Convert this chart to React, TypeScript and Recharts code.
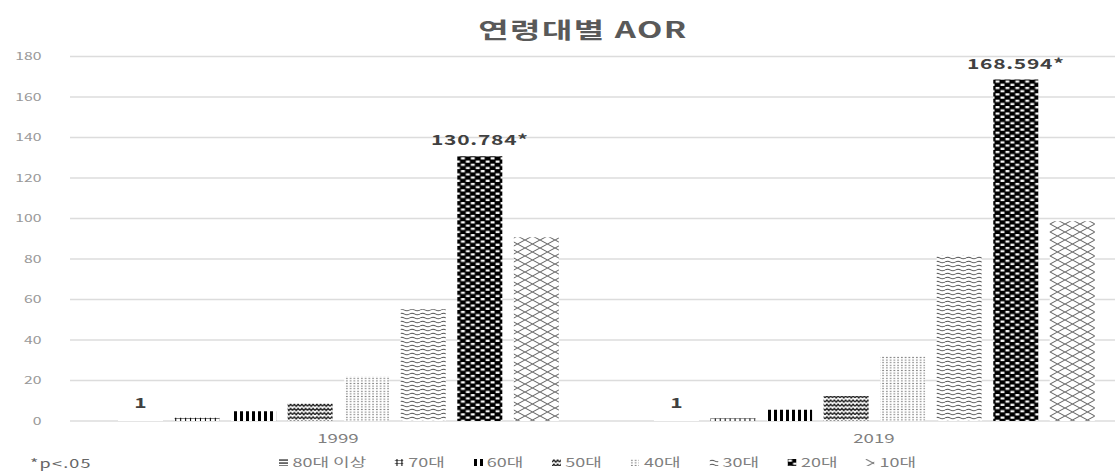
import { Bar, BarChart, CartesianGrid, LabelList, XAxis, YAxis } from "recharts";

// The source image is stretched sideways, so the whole chart is drawn narrow
// and widened with scaleX. Sizes below are in the unstretched space.
const STRETCH = 1.5;
const FONT = '"Noto Sans CJK KR", "Noto Sans", sans-serif';

const years = ["1999", "2019"];
const ageGroups = ["80대 이상", "70대", "60대", "50대", "40대", "30대", "20대", "10대"];
const aor80 = [1, 1];
const aor70 = [1.6, 1.4];
const aor60 = [4.8, 5.5];
const aor50 = [8.6, 12.3];
const aor40 = [22.0, 32.1];
const aor30 = [55.2, 81.9];
const aor20 = [130.784, 168.594];
const aor10 = [90.8, 98.6];
const labels80 = ["1", "1"];
const labels20 = ["130.784*", "168.594*"];
const yTicks = [0, 20, 40, 60, 80, 100, 120, 140, 160, 180];

const keys = ["a80", "a70", "a60", "a50", "a40", "a30", "a20", "a10"];
const seriesValues = [aor80, aor70, aor60, aor50, aor40, aor30, aor20, aor10];

const data = years.map((year, i) => {
  const row: Record<string, string | number> = { year, l80: labels80[i], l20: labels20[i] };
  keys.forEach((k, j) => (row[k] = seriesValues[j][i]));
  return row;
});

function Patterns() {
  return (
    <defs>
      {/* the 80+ bar is only 2px tall and shows as blank in the source */}
      <pattern id="p80bar" width="4" height="4" patternUnits="userSpaceOnUse">
        <rect width="4" height="4" fill="#fff" />
      </pattern>
      <pattern id="p80" width="4" height="3" patternUnits="userSpaceOnUse">
        <rect width="4" height="3" fill="#fff" />
        <rect y="0.5" width="4" height="1.1" fill="#000" />
      </pattern>
      <pattern id="p70" width="3.3" height="3" patternUnits="userSpaceOnUse">
        <rect width="3.3" height="3" fill="#fff" />
        <path d="M0 1.5 H3.3 M1.65 0 V3" stroke="#000" strokeWidth="0.7" />
      </pattern>
      <pattern id="p60" width="4" height="4" patternUnits="userSpaceOnUse">
        <rect width="4" height="4" fill="#fff" />
        <rect width="2" height="4" fill="#000" />
      </pattern>
      <pattern id="p50" width="5" height="4.2" patternUnits="userSpaceOnUse">
        <rect width="5" height="4.2" fill="#fff" />
        <path d="M0 3.2 L1.25 1 L2.5 3.2 L3.75 1 L5 3.2" stroke="#111" strokeWidth="1" fill="none" />
      </pattern>
      <pattern id="p40" width="2.5" height="2.6" patternUnits="userSpaceOnUse">
        <rect width="2.5" height="2.6" fill="#fff" />
        <circle cx="1.25" cy="1.3" r="0.6" fill="#777" />
      </pattern>
      <pattern id="p30" width="7" height="4" patternUnits="userSpaceOnUse">
        <rect width="7" height="4" fill="#fff" />
        <path d="M0 2 Q1.75 0.4 3.5 2 T7 2" stroke="#555" strokeWidth="0.9" fill="none" />
      </pattern>
      <pattern id="p20" width="6.6" height="6.4" patternUnits="userSpaceOnUse">
        <rect width="6.6" height="6.4" fill="#000" />
        <rect x="0.4" y="0.5" width="2.6" height="2.2" fill="#fff" />
        <rect x="3.7" y="3.7" width="2.6" height="2.2" fill="#fff" />
      </pattern>
      <pattern id="p10" width="10" height="8" patternUnits="userSpaceOnUse">
        <rect width="10" height="8" fill="#fff" />
        <path d="M0 0 L10 8 M10 0 L0 8" stroke="#666" strokeWidth="0.9" />
      </pattern>
    </defs>
  );
}

export default function App() {
  return (
    <div
      style={{
        position: "absolute",
        left: 0,
        top: 0,
        width: 1115,
        height: 472,
        overflow: "hidden",
        background: "#fff",
      }}
    >
      <div
        style={{
          position: "relative",
          width: 780,
          height: 472,
          transform: `scaleX(${STRETCH})`,
          transformOrigin: "0 0",
          fontFamily: FONT,
        }}
      >
        <div
          style={{
            position: "absolute",
            left: 388.7 - 200,
            width: 400,
            top: 16,
            textAlign: "center",
            fontSize: 22,
            lineHeight: "24px",
            fontWeight: 700,
            letterSpacing: 1,
            color: "#595959",
          }}
        >
          연령대별 AOR
        </div>

        <BarChart
          width={780}
          height={472}
          data={data}
          margin={{ top: 56.5, right: 18.7, bottom: 21, left: 0 }}
          barGap={7.7}
          barSize={30}
        >
          <Patterns />
          <CartesianGrid vertical={false} stroke="#dcdcdc" strokeWidth={1.3} />
          <XAxis
            dataKey="year"
            tickLine={false}
            axisLine={false}
            tickSize={0}
            tickMargin={13.6}
            height={30}
            tick={{ fill: "#7f7f7f", fontSize: 12.5, fontFamily: FONT }}
          />
          <YAxis
            domain={[0, 180]}
            ticks={yTicks}
            width={46.67}
            tickLine={false}
            axisLine={false}
            tickSize={0}
            tickMargin={19}
            tick={{ fill: "#999", fontSize: 10.5, fontFamily: FONT }}
          />
          {keys.map((k, j) => (
            <Bar
              key={k}
              dataKey={k}
              name={ageGroups[j]}
              fill={k === "a80" ? "url(#p80bar)" : `url(#p${k.slice(1)})`}
              isAnimationActive={false}
            >
              {k === "a80" && (
                <LabelList dataKey="l80" position="top" offset={11} fill="#404040" fontSize={14} fontWeight={700} fontFamily={FONT} />
              )}
              {k === "a20" && (
                <LabelList
                  dataKey="l20"
                  position="top"
                  offset={11}
                  fill="#404040"
                  fontSize={14}
                  fontWeight={700}
                  fontFamily={FONT}
                  letterSpacing={0.5}
                />
              )}
            </Bar>
          ))}
        </BarChart>

        <div
          style={{
            position: "absolute",
            left: 186,
            top: 455,
            display: "flex",
            gap: 19,
            fontSize: 12,
            lineHeight: "14px",
            color: "#7f7f7f",
          }}
        >
          {ageGroups.map((g, j) => (
            <div key={g} style={{ display: "flex", alignItems: "center" }}>
              <svg width={6} height={7} style={{ marginRight: 3 }}>
                <rect width={6} height={7} fill={`url(#p${keys[j].slice(1)})`} />
              </svg>
              {g}
            </div>
          ))}
        </div>

        <div
          style={{
            position: "absolute",
            left: 20,
            top: 456,
            fontSize: 12,
            lineHeight: "14px",
            letterSpacing: 0.8,
            color: "#666",
          }}
        >
          *p&lt;.05
        </div>
      </div>
    </div>
  );
}
